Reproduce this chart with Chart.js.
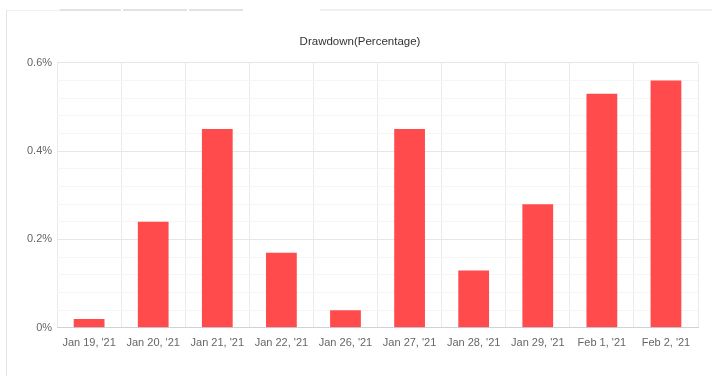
<!DOCTYPE html>
<html><head><meta charset="utf-8">
<script src="https://cdn.jsdelivr.net/npm/chart.js@4/dist/chart.umd.min.js"></script>
<style>
html,body{margin:0;padding:0;background:#fff;width:712px;height:385px;overflow:hidden;font-family:"Liberation Sans",Arial,sans-serif}
.tab{position:absolute;top:9px;height:2px;background:#e2e2e2}
#card{position:absolute;left:6px;top:10px;width:720px;height:366px;border-left:1px solid #e4e4e4}
#topl{position:absolute;left:6px;top:10px;width:54px;height:1px;background:#f0f0f0}
#wrap{position:absolute;left:0;top:0;width:712px;height:385px}
</style></head><body>
<div id="topl"></div>
<div class="tab" style="left:60px;width:61px"></div>
<div class="tab" style="left:123px;width:64px"></div>
<div class="tab" style="left:189px;width:54px"></div>
<div class="tab" style="left:320px;width:392px;background:#f0f0f0"></div>
<div id="card"></div>
<div id="wrap"><canvas id="c" width="712" height="385"></canvas></div>
<script>
const categories = ["Jan 19, '21","Jan 20, '21","Jan 21, '21","Jan 22, '21","Jan 26, '21","Jan 27, '21","Jan 28, '21","Jan 29, '21","Feb 1, '21","Feb 2, '21"];
const drawdown = [0.02, 0.24, 0.45, 0.17, 0.04, 0.45, 0.13, 0.28, 0.53, 0.56];
const yTickLabels = ["0%","0.2%","0.4%","0.6%"];

new Chart(document.getElementById('c'), {
  type: 'bar',
  data: { labels: categories, datasets: [{ label: 'Drawdown', data: drawdown, backgroundColor: 'rgb(255,75,75)', borderWidth: 0, barPercentage: 0.48, categoryPercentage: 1 }] },
  options: {
    responsive: false, animation: false,
    layout: { padding: { left: 22, right: 14, top: 35, bottom: 26 } },
    plugins: {
      legend: { display: false }, tooltip: { enabled: false },
      title: { display: true, text: 'Drawdown(Percentage)', color: '#333', font: { family: 'Liberation Sans', size: 11.5, weight: 'normal' }, padding: { top: 0, bottom: 14 } }
    },
    scales: {
      x: {
        grid: { color: '#ebebeb', offset: true, drawTicks: false },
        border: { color: '#cdd3dd' },
        ticks: { color: '#666', font: { family: 'Liberation Sans', size: 11 }, padding: 9, maxRotation: 0, autoSkip: false }
      },
      y: {
        min: 0, max: 0.6,
        grid: { color: (ctx) => { const v = Math.round(ctx.tick.value*100); return v % 20 === 0 ? '#e6e6e6' : '#f5f5f5'; }, drawTicks: false },
        border: { display: false },
        ticks: { stepSize: 0.04, color: '#666', font: { family: 'Liberation Sans', size: 11 }, padding: 5,
          callback: (v) => { const i = Math.round(v*100); return i % 20 === 0 ? yTickLabels[i/20] : ''; } }
      }
    }
  }
});
</script></body></html>
